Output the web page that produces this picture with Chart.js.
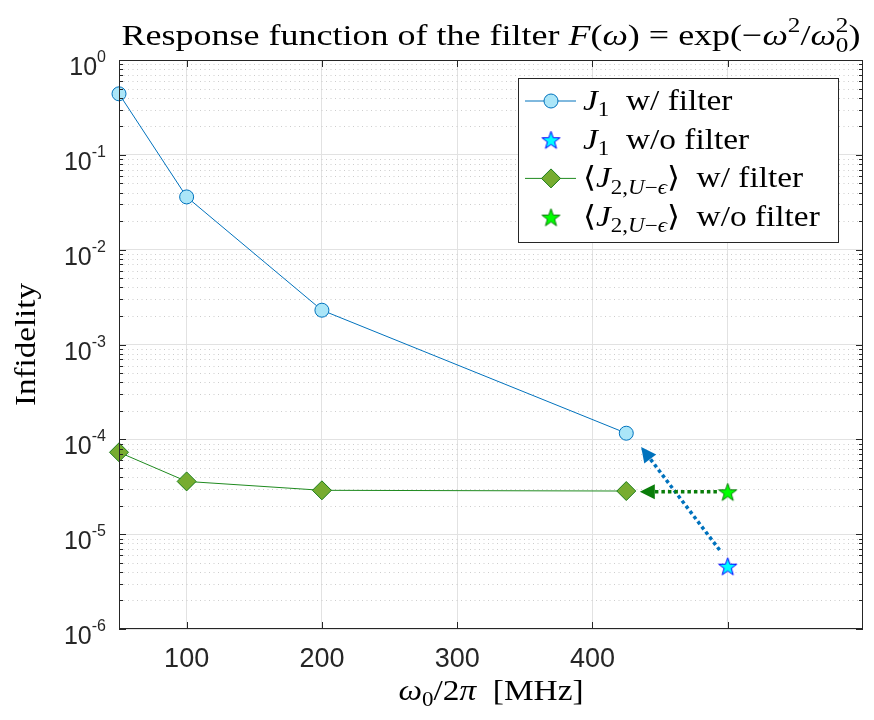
<!DOCTYPE html>
<html>
<head>
<meta charset="utf-8">
<script src="https://cdn.jsdelivr.net/npm/chart.js@4.4.0/dist/chart.umd.min.js"></script>
<style>
html, body { margin: 0; padding: 0; background: #fff; }
</style>
</head>
<body>
<canvas id="myChart" width="874" height="720"></canvas>
<script>
// valeurs
const xFilter = [50, 100, 200, 425];
const j1Filter = [0.44, 0.036, 0.0023, 1.16e-4];
const j2Filter = [7.3e-5, 3.6e-5, 2.9e-5, 2.85e-5];
const xNoFilter = [500];
const j1NoFilter = [4.6e-6];
const j2NoFilter = [2.8e-5];

const xTicks = [100, 200, 300, 400, 500];
const xTickLabels = ['100', '200', '300', '400', ''];
const yDecades = [1e-6, 1e-5, 1e-4, 1e-3, 1e-2, 1e-1, 1];
const yExponents = ['-6', '-5', '-4', '-3', '-2', '-1', '0'];

// fleches (coordonnees en donnees)
const arrowBlue = { from: [494, 6.8e-6], to: [436, 8.3e-5] };
const arrowGreen = { from: [492, 2.8e-5], to: [435, 2.8e-5] };

// textes (morceaux : i = italique, s = indice/exposant)
const titleParts = [
    { t: 'Response function of the filter ' }, { t: 'F', i: 1 }, { t: '(' }, { t: 'ω', i: 1 },
    { t: ') = exp(−' }, { t: 'ω', i: 1 }, { t: '2', s: 'sup' }, { t: '/' }, { t: 'ω', i: 1 },
    { stack: true, sup: '2', sub: '0' }, { t: ')' }
];
const xLabelParts = [{ t: 'ω', i: 1 }, { t: '0', s: 'sub' }, { t: '/2' }, { t: 'π', i: 1 }, { t: '  [MHz]' }];
const yLabel = 'Infidelity';
const legendLabels = [
    [{ t: 'J', i: 1 }, { t: '1', s: 'sub' }, { t: '  w/ filter' }],
    [{ t: 'J', i: 1 }, { t: '1', s: 'sub' }, { t: '  w/o filter' }],
    [{ t: '⟨' }, { t: 'J', i: 1 }, { t: '2,', s: 'sub' }, { t: 'U', i: 1, s: 'sub' }, { t: '−', s: 'sub' }, { t: 'ϵ', i: 1, s: 'sub' }, { t: '⟩' }, { t: '  w/ filter' }],
    [{ t: '⟨' }, { t: 'J', i: 1 }, { t: '2,', s: 'sub' }, { t: 'U', i: 1, s: 'sub' }, { t: '−', s: 'sub' }, { t: 'ϵ', i: 1, s: 'sub' }, { t: '⟩' }, { t: '  w/o filter' }]
];

const SERIF = '"Liberation Serif", "DejaVu Serif", serif';
const SANS = '"Liberation Sans", Arial, sans-serif';
const AXIS = '#262626';

function makeStar(fill, edge, size) {
    const c = document.createElement('canvas');
    c.width = size; c.height = size;
    const g = c.getContext('2d');
    const cx = size / 2, cy = size / 2 + 1, R = size / 2 - 1, r = R * 0.4;
    g.beginPath();
    for (let k = 0; k < 10; k++) {
        const a = -Math.PI / 2 + k * Math.PI / 5;
        const rr = k % 2 ? r : R;
        g.lineTo(cx + rr * Math.cos(a), cy + rr * Math.sin(a));
    }
    g.closePath();
    g.fillStyle = fill; g.fill();
    g.strokeStyle = edge; g.lineWidth = 1; g.stroke();
    return c;
}

function richFont(p, size) {
    const sz = (p.s || p.stack) ? Math.round(size * 0.7) : size;
    return (p.i ? 'italic ' : '') + sz + 'px ' + SERIF;
}

function partWidth(ctx, p, size) {
    ctx.font = richFont(p, size);
    if (p.stack) return Math.max(ctx.measureText(p.sup).width, ctx.measureText(p.sub).width);
    return ctx.measureText(p.t).width;
}

// texte "latex" : etire horizontalement pour imiter Computer Modern
function drawRich(ctx, parts, x, y, size, align, stretch) {
    let w = 0;
    parts.forEach(p => { w += partWidth(ctx, p, size); });
    const sw = w * stretch;
    const x0 = align === 'center' ? x - sw / 2 : (align === 'right' ? x - sw : x);
    ctx.save();
    ctx.translate(x0, y);
    ctx.scale(stretch, 1);
    ctx.textAlign = 'left';
    ctx.textBaseline = 'alphabetic';
    let cx = 0;
    parts.forEach(p => {
        const pw = partWidth(ctx, p, size);
        ctx.font = richFont(p, size);
        if (p.stack) {
            ctx.fillText(p.sup, cx, -0.42 * size);
            ctx.fillText(p.sub, cx, 0.22 * size);
        } else {
            const dy = p.s === 'sub' ? 0.22 * size : (p.s === 'sup' ? -0.42 * size : 0);
            ctx.fillText(p.t, cx, dy);
        }
        cx += pw;
    });
    ctx.restore();
}

function drawArrow(ctx, chart, arrow, color) {
    const xs = chart.scales.x, ys = chart.scales.y;
    const x0 = xs.getPixelForValue(arrow.from[0]), y0 = ys.getPixelForValue(arrow.from[1]);
    const x1 = xs.getPixelForValue(arrow.to[0]), y1 = ys.getPixelForValue(arrow.to[1]);
    const ang = Math.atan2(y1 - y0, x1 - x0);
    const headLen = 15, headW = 7.5;
    const bx = x1 - headLen * Math.cos(ang), by = y1 - headLen * Math.sin(ang);
    ctx.save();
    ctx.strokeStyle = color;
    ctx.lineWidth = 3.5;
    ctx.setLineDash([3.5, 3]);
    ctx.beginPath();
    ctx.moveTo(x0, y0);
    ctx.lineTo(bx, by);
    ctx.stroke();
    ctx.setLineDash([]);
    ctx.fillStyle = color;
    ctx.beginPath();
    ctx.moveTo(x1, y1);
    ctx.lineTo(bx + headW * Math.sin(ang), by - headW * Math.cos(ang));
    ctx.lineTo(bx - headW * Math.sin(ang), by + headW * Math.cos(ang));
    ctx.closePath();
    ctx.fill();
    ctx.restore();
}

// grille mineure, axes, fleches, legende et textes
const decorPlugin = {
    id: 'decor',
    beforeDatasetsDraw(chart) {
        const { ctx, chartArea: a } = chart;
        const ys = chart.scales.y;
        ctx.save();
        ctx.strokeStyle = '#cdcdcd';
        ctx.lineWidth = 1;
        ctx.setLineDash([1, 3.5]);
        yDecades.slice(0, -1).forEach(d => {
            for (let m = 2; m <= 9; m++) {
                const py = Math.round(ys.getPixelForValue(d * m)) + 0.5;
                ctx.beginPath();
                ctx.moveTo(a.left, py);
                ctx.lineTo(a.right, py);
                ctx.stroke();
            }
        });
        ctx.restore();
    },
    afterDatasetsDraw(chart) {
        drawArrow(chart.ctx, chart, arrowBlue, '#0072BD');
        drawArrow(chart.ctx, chart, arrowGreen, '#0a7d0a');
    },
    afterDraw(chart) {
        const { ctx, chartArea: a } = chart;
        const xs = chart.scales.x, ys = chart.scales.y;
        ctx.save();
        // boite des axes et graduations
        ctx.strokeStyle = AXIS;
        ctx.lineWidth = 1;
        ctx.strokeRect(a.left + 0.5, a.top + 0.5, a.right - a.left - 1, a.bottom - a.top - 1);
        ctx.beginPath();
        xTicks.forEach(v => {
            const px = Math.round(xs.getPixelForValue(v)) + 0.5;
            ctx.moveTo(px, a.bottom); ctx.lineTo(px, a.bottom - 7);
            ctx.moveTo(px, a.top); ctx.lineTo(px, a.top + 7);
        });
        yDecades.forEach((d, k) => {
            const py = Math.round(ys.getPixelForValue(d)) + 0.5;
            ctx.moveTo(a.left, py); ctx.lineTo(a.left + 7, py);
            ctx.moveTo(a.right, py); ctx.lineTo(a.right - 7, py);
            if (k < yDecades.length - 1) {
                for (let m = 2; m <= 9; m++) {
                    const pm = Math.round(ys.getPixelForValue(d * m)) + 0.5;
                    ctx.moveTo(a.left, pm); ctx.lineTo(a.left + 4, pm);
                    ctx.moveTo(a.right, pm); ctx.lineTo(a.right - 4, pm);
                }
            }
        });
        ctx.stroke();

        // etiquettes de l'axe y : 10^k
        ctx.fillStyle = AXIS;
        ctx.textBaseline = 'alphabetic';
        yDecades.forEach((d, k) => {
            const py = ys.getPixelForValue(d);
            ctx.font = '16px ' + SANS;
            const ew = ctx.measureText(yExponents[k]).width;
            const right = a.left - 13;
            ctx.textAlign = 'left';
            ctx.fillText(yExponents[k], right - ew, py + 2);
            ctx.font = '25px ' + SANS;
            ctx.textAlign = 'right';
            ctx.fillText('10', right - ew, py + 15);
        });

        // titres
        ctx.fillStyle = '#000';
        const cx = (a.left + a.right) / 2;
        drawRich(ctx, titleParts, cx, 45, 30, 'center', 1.2);
        drawRich(ctx, xLabelParts, cx, 700, 29, 'center', 1.15);
        ctx.save();
        ctx.translate(27, (a.top + a.bottom) / 2);
        ctx.rotate(-Math.PI / 2);
        ctx.scale(1.14, 1);
        ctx.font = '29px ' + SERIF;
        ctx.textAlign = 'center';
        ctx.textBaseline = 'middle';
        ctx.fillText(yLabel, 0, 0);
        ctx.restore();

        // legende
        const lw = 320, lh = 164;
        const lx = a.right - 25 - lw, ly = a.top + 18;
        ctx.fillStyle = '#fff';
        ctx.fillRect(lx, ly, lw, lh);
        ctx.strokeStyle = AXIS;
        ctx.lineWidth = 1;
        ctx.strokeRect(lx + 0.5, ly + 0.5, lw, lh);
        chart.data.datasets.forEach((ds, k) => {
            const ry = ly + 23 + k * 38.7;
            const mx = lx + 33;
            if (ds.showLine) {
                ctx.strokeStyle = ds.borderColor;
                ctx.lineWidth = ds.borderWidth;
                ctx.beginPath();
                ctx.moveTo(lx + 7, ry); ctx.lineTo(lx + 58, ry);
                ctx.stroke();
            }
            ctx.fillStyle = ds.pointBackgroundColor;
            ctx.strokeStyle = ds.pointBorderColor;
            ctx.lineWidth = ds.pointBorderWidth;
            Chart.helpers.drawPoint(ctx, {
                pointStyle: ds.pointStyle,
                radius: ds.pointRadius,
                rotation: 0,
                borderWidth: ds.pointBorderWidth
            }, mx, ry);
            ctx.fillStyle = '#000';
            drawRich(ctx, legendLabels[k], lx + 65, ry + 9, 29, 'left', 1.15);
        });
        ctx.restore();
    }
};

const toPoints = (xs, ys) => xs.map((x, i) => ({ x: x, y: ys[i] }));

const ctx = document.getElementById('myChart').getContext('2d');
new Chart(ctx, {
    type: 'scatter',
    data: {
        datasets: [
            {
                label: 'J1 w/ filter',
                data: toPoints(xFilter, j1Filter),
                showLine: true,
                borderColor: '#0072BD',
                borderWidth: 1,
                pointStyle: 'circle',
                pointRadius: 7,
                pointBackgroundColor: '#abe6f8',
                pointBorderColor: '#0072BD',
                pointBorderWidth: 1,
                clip: false
            },
            {
                label: 'J1 w/o filter',
                data: toPoints(xNoFilter, j1NoFilter),
                showLine: false,
                pointStyle: makeStar('#00ffff', '#0000ff', 21),
                pointRadius: 10,
                pointBackgroundColor: '#00ffff',
                pointBorderColor: '#0000ff',
                pointBorderWidth: 1,
                clip: false
            },
            {
                label: 'J2 w/ filter',
                data: toPoints(xFilter, j2Filter),
                showLine: true,
                borderColor: '#1f8a1f',
                borderWidth: 1,
                pointStyle: 'rectRot',
                pointRadius: 9.5,
                pointBackgroundColor: '#77AC30',
                pointBorderColor: '#1a7d1a',
                pointBorderWidth: 1,
                clip: false
            },
            {
                label: 'J2 w/o filter',
                data: toPoints(xNoFilter, j2NoFilter),
                showLine: false,
                pointStyle: makeStar('#00ff00', '#0a7d0a', 21),
                pointRadius: 10,
                pointBackgroundColor: '#00ff00',
                pointBorderColor: '#0a7d0a',
                pointBorderWidth: 1,
                clip: false
            }
        ]
    },
    options: {
        responsive: false,
        animation: false,
        devicePixelRatio: 1,
        layout: { padding: { top: 60, right: 7, left: 0, bottom: 0 } },
        plugins: {
            legend: { display: false },
            tooltip: { enabled: false }
        },
        scales: {
            x: {
                type: 'linear',
                min: 50,
                max: 600,
                afterBuildTicks: s => { s.ticks = xTicks.map(v => ({ value: v })); },
                afterFit: s => { s.height = 91; },
                grid: { color: '#e2e2e2', lineWidth: 1, drawTicks: false },
                border: { display: false },
                ticks: {
                    color: AXIS,
                    font: { family: SANS, size: 27 },
                    padding: 14,
                    maxRotation: 0,
                    callback: (v, i) => xTickLabels[i]
                }
            },
            y: {
                type: 'logarithmic',
                min: 1e-6,
                max: 1,
                afterBuildTicks: s => { s.ticks = yDecades.map(v => ({ value: v, major: true })); },
                afterFit: s => { s.width = 119; },
                grid: { color: '#e2e2e2', lineWidth: 1, drawTicks: false },
                border: { display: false },
                ticks: { display: false }
            }
        }
    },
    plugins: [decorPlugin]
});
</script>
</body>
</html>
